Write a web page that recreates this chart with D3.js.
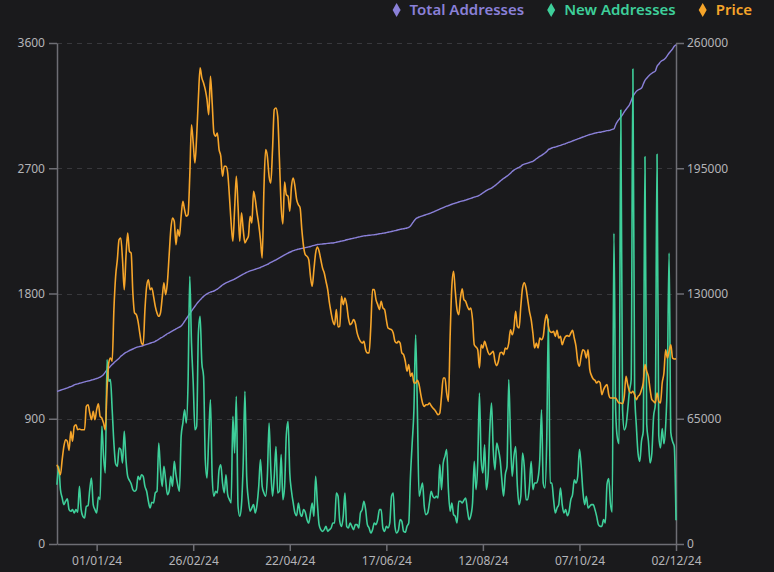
<!DOCTYPE html>
<html>
<head>
<meta charset="utf-8">
<script src="https://cdn.jsdelivr.net/npm/d3@7/dist/d3.min.js"></script>
<style>
  body { margin: 0; background: #1a1a1c; }
  svg { display: block; }
</style>
</head>
<body>
<svg id="chart"></svg>
<script>
// daily data, first day 09/12/23, last day 02/12/24
var startDate = "2023-12-09";
var tickDates = ["2024-01-01", "2024-02-26", "2024-04-22", "2024-06-17", "2024-08-12", "2024-10-07", "2024-12-02"];
var leftTicks = [0, 900, 1800, 2700, 3600];
var rightTicks = [0, 65000, 130000, 195000, 260000];
var seriesNames = ["Total Addresses", "New Addresses", "Price"];
var seriesColors = ["#8a80d8", "#3ecf9a", "#f6a52a"];

var totalAddresses = [
  79200, 79500, 79800, 80100, 80400, 80700, 81000, 81400, 81700, 82000,
  82600, 82900, 83100, 83400, 83600, 83900, 84100, 84400, 84600, 84800,
  85100, 85300, 85600, 85900, 86200, 86600, 87200, 88000, 89200, 90300,
  91300, 92200, 93100, 94000, 94800, 95600, 96400, 97400, 98100, 98800,
  99400, 99900, 100400, 100800, 101200, 101600, 102000, 102300, 102500, 102700,
  103000, 103300, 103600, 103900, 104200, 104500, 104800, 105200, 105700, 106200,
  106800, 107300, 107900, 108500, 109100, 109600, 110100, 110600, 111100, 111600,
  112100, 112600, 113100, 114200, 115600, 116900, 118200, 119500, 120800, 122100,
  123400, 124600, 125700, 126700, 127600, 128500, 129200, 129800, 130300, 130700,
  131000, 131300, 131800, 132300, 133000, 133700, 134400, 135000, 135500, 135900,
  136300, 136700, 137100, 137500, 138000, 138500, 139000, 139500, 140000, 140500,
  141000, 141400, 141700, 142000, 142300, 142600, 142900, 143200, 143500, 143900,
  144300, 144700, 145100, 145600, 146100, 146600, 147000, 147500, 148000, 148500,
  149000, 149500, 150000, 150500, 151000, 151400, 151800, 152200, 152500, 152800,
  153000, 153200, 153400, 153600, 153800, 154000, 154200, 154400, 154700, 155000,
  155200, 155400, 155500, 155600, 155700, 155800, 155900, 156000, 156100, 156200,
  156200, 156400, 156600, 156800, 157000, 157200, 157400, 157600, 157900, 158100,
  158300, 158500, 158700, 158900, 159100, 159300, 159500, 159700, 159900, 160000,
  160100, 160200, 160300, 160400, 160500, 160600, 160800, 161000, 161100, 161300,
  161400, 161600, 161800, 162000, 162200, 162400, 162600, 162800, 163100, 163300,
  163500, 163600, 163800, 164000, 164300, 165000, 166300, 167600, 168700, 169300,
  169700, 170000, 170300, 170600, 170900, 171200, 171500, 171800, 172200, 172600,
  173000, 173400, 173800, 174200, 174600, 175000, 175300, 175600, 176000, 176300,
  176600, 176900, 177200, 177500, 177800, 178000, 178200, 178500, 178800, 179100,
  179400, 179700, 180000, 180300, 180500, 181000, 181600, 182200, 182800, 183400,
  183900, 184300, 184700, 185300, 186000, 186700, 187500, 188300, 189000, 189700,
  190300, 190900, 191600, 192400, 193300, 194000, 194600, 195100, 195500, 196000,
  196800, 197100, 197400, 197700, 198000, 198300, 198600, 199200, 199900, 200500,
  201200, 201700, 202300, 202900, 203700, 204650, 205100, 205500, 205800, 206000,
  206300, 206600, 206900, 207230, 207500, 207800, 208200, 208500, 208800, 209200,
  209500, 209830, 210200, 210500, 210900, 211200, 211500, 211900, 212200, 212500,
  212700, 213000, 213200, 213400, 213600, 213700, 213900, 214100, 214300, 214500,
  214600, 214800, 215200, 215400, 217600, 219200, 220400, 221600, 222800, 224300,
  225500, 226700, 227900, 230000, 232300, 233700, 234900, 235600, 236100, 236600,
  238600, 240600, 241700, 242700, 243600, 244300, 244900, 245400, 247900, 249000,
  250200, 250900, 251400, 252200, 253500, 254800, 255900, 256900, 258300, 259000
];

var newAddresses = [
  426, 558, 391, 331, 283, 307, 324, 247, 235, 247,
  223, 247, 228, 414, 247, 199, 187, 271, 276, 391,
  474, 283, 247, 223, 338, 319, 846, 630, 510, 1325,
  1169, 1181, 965, 725, 577, 558, 690, 678, 582, 810,
  606, 486, 457, 433, 391, 379, 391, 486, 462, 498,
  486, 414, 379, 307, 259, 300, 295, 367, 379, 725,
  534, 414, 558, 462, 355, 379, 486, 414, 594, 498,
  426, 379, 773, 869, 965, 869, 1157, 1924, 1444, 1157,
  821, 845, 1516, 1636, 1301, 1205, 606, 474, 773, 1037,
  486, 343, 379, 367, 534, 570, 438, 367, 498, 355,
  319, 295, 917, 654, 1061, 271, 199, 283, 582, 1097,
  486, 319, 235, 259, 283, 223, 283, 414, 606, 414,
  367, 343, 486, 869, 534, 343, 486, 701, 367, 379,
  642, 319, 414, 785, 881, 510, 379, 295, 223, 204,
  295, 223, 199, 247, 228, 175, 151, 223, 295, 199,
  486, 295, 139, 103, 91, 103, 127, 91, 103, 115,
  151, 151, 367, 343, 163, 127, 199, 367, 127, 115,
  151, 127, 103, 139, 139, 115, 223, 247, 307, 247,
  139, 115, 79, 103, 151, 139, 175, 247, 247, 115,
  91, 127, 115, 151, 343, 367, 127, 79, 98, 175,
  163, 91, 84, 127, 151, 486, 725, 965, 1504, 965,
  343, 391, 438, 271, 211, 223, 295, 379, 343, 331,
  343, 331, 570, 391, 582, 630, 678, 391, 235, 295,
  211, 199, 151, 307, 307, 295, 314, 331, 247, 175,
  204, 295, 594, 391, 582, 1085, 606, 510, 713, 391,
  486, 821, 1013, 678, 534, 725, 678, 606, 462, 343,
  498, 558, 1181, 773, 486, 630, 701, 414, 283, 343,
  654, 558, 319, 319, 414, 594, 391, 438, 438, 474,
  606, 965, 438, 402, 725, 1620, 438, 438, 319, 223,
  259, 283, 402, 283, 223, 247, 204, 235, 319, 355,
  462, 438, 486, 680, 560, 380, 283, 343, 259, 271,
  283, 283, 247, 199, 139, 127, 127, 175, 151, 430,
  470, 290, 230, 2233, 960, 760, 720, 3119, 965, 820,
  850, 965, 1100, 1180, 3413, 1109, 850, 650, 594, 740,
  809, 2783, 860, 740, 582, 654, 917, 1000, 2800, 780,
  690, 830, 720, 850, 1205, 2091, 800, 737, 701, 170
];

var price = [
  570, 534, 498, 606, 702, 749, 738, 673, 810, 738,
  845, 857, 821, 826, 821, 821, 821, 989, 1001, 941,
  893, 953, 893, 965, 1008, 917, 905, 869, 821, 1109,
  1301, 1337, 1313, 1684, 1923, 2043, 2187, 2199, 2043, 1827,
  2067, 2235, 2103, 2091, 1804, 1660, 1648, 1600, 1516, 1444,
  1432, 1684, 1852, 1899, 1828, 1840, 1780, 1708, 1660, 1636,
  1660, 1768, 1876, 1792, 1876, 2067, 2259, 2343, 2319, 2151,
  2259, 2211, 2355, 2462, 2402, 2355, 2367, 2642, 3013, 2882,
  2738, 2930, 3205, 3421, 3349, 3313, 3265, 3193, 3085, 3361,
  3169, 2953, 2930, 2953, 2834, 2786, 2642, 2714, 2714, 2666,
  2498, 2307, 2175, 2403, 2642, 2427, 2175, 2379, 2259, 2163,
  2187, 2211, 2355, 2307, 2534, 2474, 2379, 2295, 2187, 2055,
  2546, 2834, 2786, 2642, 2594, 2834, 3121, 3133, 3073, 2762,
  2427, 2300, 2600, 2510, 2498, 2391, 2570, 2630, 2570, 2474,
  2438, 2415, 2259, 2139, 2079, 2067, 2043, 1923, 1852, 1971,
  2091, 2134, 2103, 2043, 1983, 1947, 1887, 1828, 1732, 1660,
  1600, 1576, 1684, 1560, 1564, 1780, 1720, 1768, 1720, 1624,
  1576, 1588, 1612, 1588, 1521, 1480, 1456, 1444, 1456, 1396,
  1373, 1373, 1564, 1828, 1828, 1756, 1720, 1684, 1744, 1696,
  1684, 1612, 1552, 1545, 1540, 1516, 1456, 1444, 1456, 1444,
  1373, 1361, 1313, 1241, 1289, 1205, 1229, 1157, 1157, 1176,
  1145, 1073, 1013, 989, 1001, 1001, 1013, 994, 977, 965,
  946, 929, 941, 1061, 1193, 1193, 1085, 1025, 1492, 1852,
  1959, 1816, 1684, 1648, 1768, 1833, 1756, 1744, 1708, 1684,
  1696, 1612, 1432, 1416, 1396, 1265, 1432, 1408, 1456, 1420,
  1378, 1361, 1373, 1385, 1313, 1282, 1313, 1373, 1378, 1361,
  1408, 1401, 1444, 1540, 1504, 1552, 1672, 1564, 1552, 1708,
  1840, 1876, 1840, 1756, 1672, 1612, 1516, 1408, 1444, 1408,
  1480, 1468, 1492, 1600, 1648, 1564, 1526, 1521, 1528, 1492,
  1535, 1480, 1492, 1432, 1468, 1492, 1497, 1492, 1516, 1535,
  1480, 1420, 1313, 1277, 1349, 1396, 1385, 1337, 1396, 1253,
  1210, 1186, 1176, 1157, 1169, 1157, 1073, 1109, 1133, 1145,
  1073, 1049, 1049, 1049, 1049, 1030, 1013, 1013, 1008, 1061,
  1205, 1145, 1097, 1085, 1097, 1073, 1037, 1061, 1073, 1109,
  1157, 1289, 1241, 1205, 1109, 1037, 1025, 1013, 1085, 1025,
  1013, 1157, 1229, 1396, 1337, 1385, 1432, 1337, 1329, 1330
];

var W = 774, H = 572;
var margin = {top: 43, right: 98, bottom: 28, left: 57};
var x0 = margin.left, x1 = W - margin.right, y0 = H - margin.bottom, y1 = margin.top;

var parse = d3.utcParse("%Y-%m-%d");
var first = parse(startDate);
var dates = price.map(function(d, i) { return d3.utcDay.offset(first, i); });

var x = d3.scaleUtc()
    .domain([first, dates[dates.length - 1]])
    .range([x0, x1]);
var yLeft = d3.scaleLinear().domain([0, 3600]).range([y0, y1]);
var yRight = d3.scaleLinear().domain([0, 260000]).range([y0, y1]);

var svg = d3.select("#chart").attr("width", W).attr("height", H);
svg.append("rect").attr("width", W).attr("height", H).attr("fill", "#1a1a1c");

var font = "'Noto Sans', 'Open Sans', sans-serif";
var axisColor = "#6e6e74";
var labelColor = "#b4b4b8";

// grid
svg.append("g").selectAll("line")
  .data(leftTicks.slice(1)).enter()
  .append("line")
  .attr("x1", x0).attr("x2", x1)
  .attr("y1", function(d) { return Math.round(yLeft(d)) + 0.5; })
  .attr("y2", function(d) { return Math.round(yLeft(d)) + 0.5; })
  .attr("stroke", "#38383c")
  .attr("stroke-dasharray", "5,5");

function styleAxis(g) {
  g.selectAll(".domain").attr("stroke", axisColor).attr("stroke-width", 1.5);
  g.selectAll(".tick line").attr("stroke", axisColor).attr("stroke-width", 1.5);
  g.selectAll("text").attr("fill", labelColor)
    .style("font-family", font).style("font-size", "12px");
}

var leftAxis = d3.axisLeft(yLeft).tickValues(leftTicks).tickSize(8).tickPadding(4).tickSizeOuter(0)
    .tickFormat(d3.format("d"));
svg.append("g").attr("transform", "translate(" + x0 + ",0)").call(leftAxis).call(styleAxis);

var rightAxis = d3.axisRight(yRight).tickValues(rightTicks).tickSize(8).tickPadding(3).tickSizeOuter(0)
    .tickFormat(d3.format("d"));
svg.append("g").attr("transform", "translate(" + x1 + ",0)").call(rightAxis).call(styleAxis);

var bottomAxis = d3.axisBottom(x).tickValues(tickDates.map(parse)).tickSize(7).tickPadding(5).tickSizeOuter(0)
    .tickFormat(d3.utcFormat("%d/%m/%y"));
svg.append("g").attr("transform", "translate(0," + y0 + ")").call(bottomAxis).call(styleAxis);

// series
var series = [
  {values: totalAddresses, scale: yRight, width: 1.4},
  {values: newAddresses, scale: yLeft, width: 1.6},
  {values: price, scale: yLeft, width: 1.6}
];
series.forEach(function(s, k) {
  var line = d3.line()
    .x(function(d, i) { return x(dates[i]); })
    .y(function(d) { return s.scale(d); })
    .curve(d3.curveMonotoneX);
  svg.append("path")
    .datum(s.values)
    .attr("d", line)
    .attr("fill", "none")
    .attr("stroke", seriesColors[k])
    .attr("stroke-width", s.width)
    .attr("stroke-linejoin", "round");
});

// legend, right aligned
var legend = svg.append("g");
var items = legend.selectAll("g").data(seriesNames).enter().append("g");
items.append("path")
  .attr("d", "M0,-7L4,0L0,7L-4,0Z")
  .attr("fill", function(d, i) { return seriesColors[i]; });
items.append("text")
  .attr("x", 13)
  .attr("dy", "0.35em")
  .attr("fill", function(d, i) { return seriesColors[i]; })
  .style("font-family", font)
  .style("font-size", "15px")
  .style("font-weight", 600)
  .text(function(d) { return d; });
var widths = [];
items.each(function() { widths.push(d3.select(this).select("text").node().getComputedTextLength()); });
var gap = 27;
var total = d3.sum(widths) + widths.length * 13 + (widths.length - 1) * gap;
var pos = 752 - total;
items.attr("transform", function(d, i) {
  var p = pos;
  pos += 13 + widths[i] + gap;
  return "translate(" + p + ",10)";
});
</script>
</body>
</html>
